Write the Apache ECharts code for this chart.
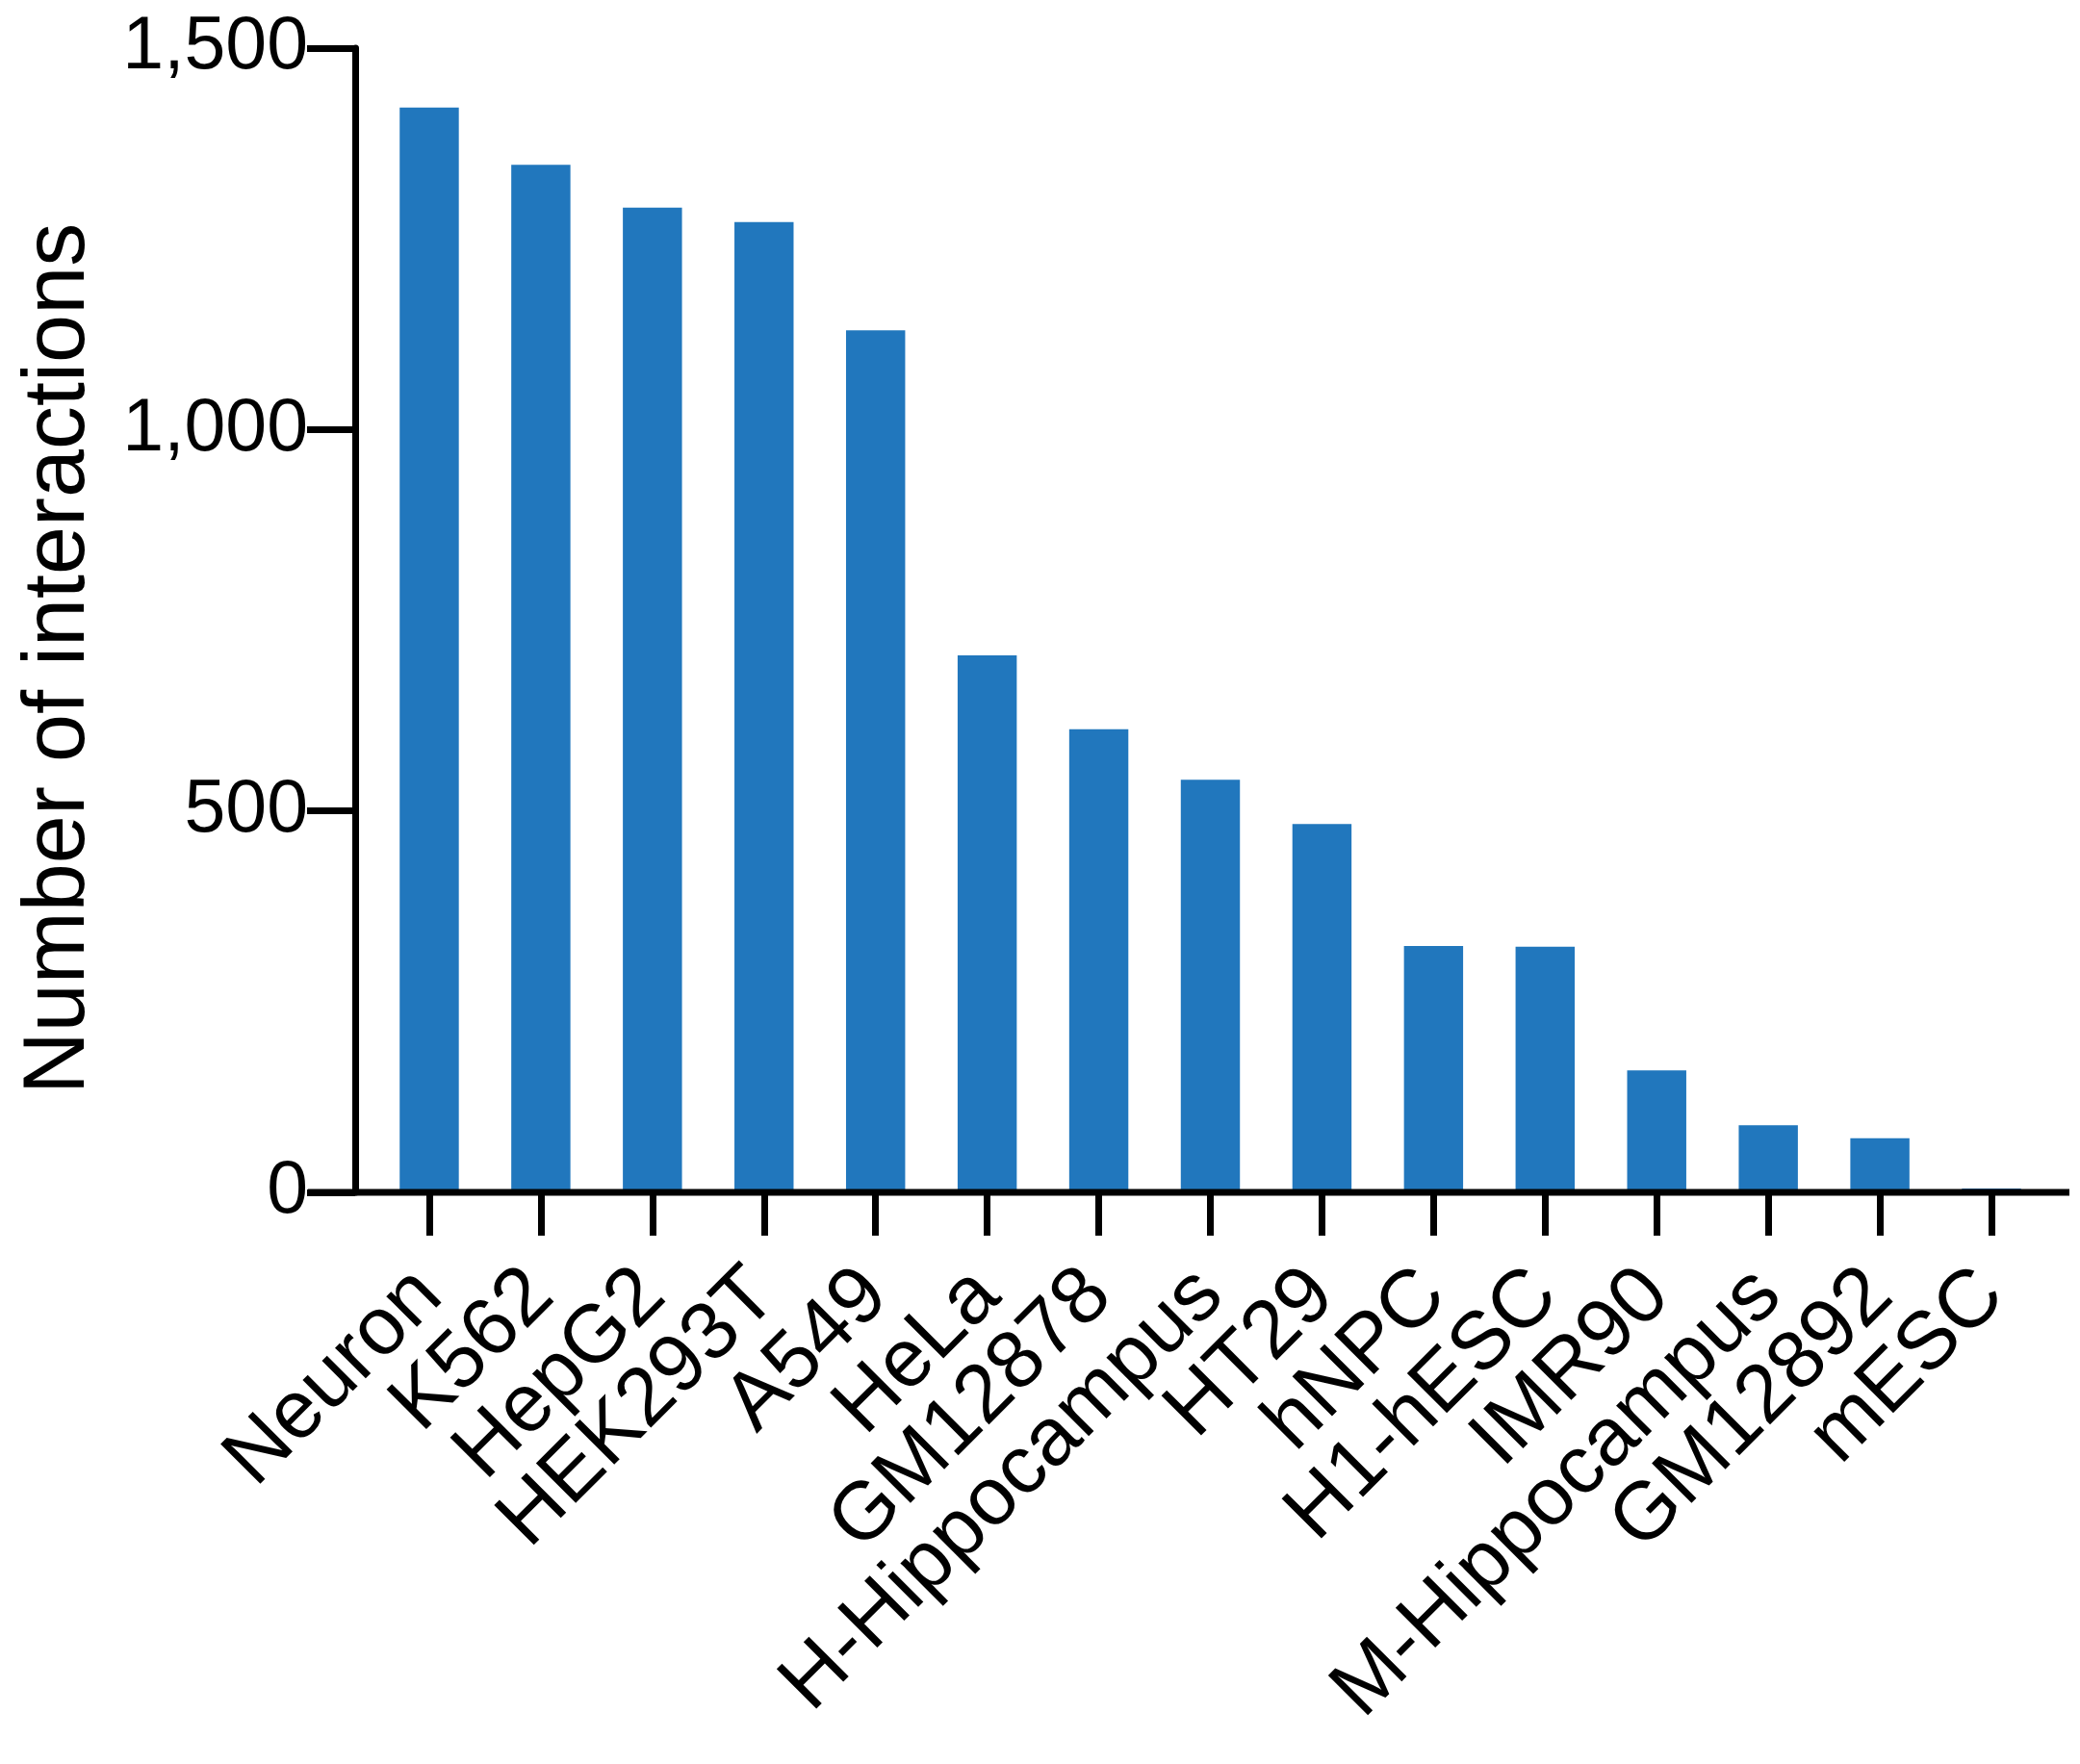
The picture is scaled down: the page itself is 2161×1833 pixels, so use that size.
<!DOCTYPE html>
<html>
<head>
<meta charset="utf-8">
<script src="https://cdn.jsdelivr.net/npm/echarts@6/dist/echarts.min.js"></script>
<style>
html,body{margin:0;padding:0;background:#fff;}
#chart{width:2161px;height:1833px;}
</style>
</head>
<body>
<div id="chart"></div>
<script>
const categories = ['Neuron','K562','HepG2','HEK293T','A549','HeLa','GM12878','H-Hippocampus','HT29','hNPC','H1-hESC','IMR90','M-Hippocampus','GM12892','mESC'];
const interactions = [1422,1347,1291,1272,1130,704,607,541,483,323,322,160,88,71,5];
const yTicks = [0, 500, 1000, 1500];
const yTitle = 'Number of interactions';

const FONT = "'Liberation Sans', Arial, Helvetica, sans-serif";
const chart = echarts.init(document.getElementById('chart'), null, {renderer:'canvas'});

const option = {
  backgroundColor: '#ffffff',
  animation: false,
  grid: { left: 388, right: 34, top: 50, bottom: 594, containLabel: false },
  xAxis: {
    type: 'category',
    data: categories,
    axisLine: { show: false },
    axisTick: { show: true, alignWithLabel: true, length: 45, lineStyle: { color: '#000', width: 7 } },
    axisLabel: {
      interval: 0, rotate: 45, margin: 94,
      color: '#000', fontSize: 85, fontFamily: FONT
    },
    splitLine: { show: false }
  },
  yAxis: {
    type: 'value',
    min: yTicks[0], max: yTicks[yTicks.length - 1], interval: 500,
    offset: 19,
    name: yTitle,
    nameLocation: 'middle',
    nameRotate: 90,
    nameGap: 262,
    nameTextStyle: { color: '#000', fontSize: 90, fontFamily: FONT, padding: [0, 80, 0, 0] },
    axisLine: { show: true, lineStyle: { color: '#000', width: 7 } },
    axisTick: { show: true, length: 50, lineStyle: { color: '#000', width: 7 } },
    axisLabel: {
      margin: 49, color: '#000', fontSize: 77, fontFamily: FONT,
      formatter: v => v.toLocaleString('en-US')
    },
    splitLine: { show: false }
  },
  series: [{
    type: 'bar',
    data: interactions,
    barWidth: '53%',
    itemStyle: { color: '#2177bd' }
  }]
};
chart.setOption(option);

const y0 = chart.convertToPixel({ yAxisIndex: 0 }, 0);
chart.setOption({
  graphic: [{
    type: 'line',
    z: 100,
    shape: { x1: 320, y1: y0, x2: 2150, y2: y0 },
    style: { stroke: '#000', lineWidth: 7 }
  }]
});
</script>
</body>
</html>
